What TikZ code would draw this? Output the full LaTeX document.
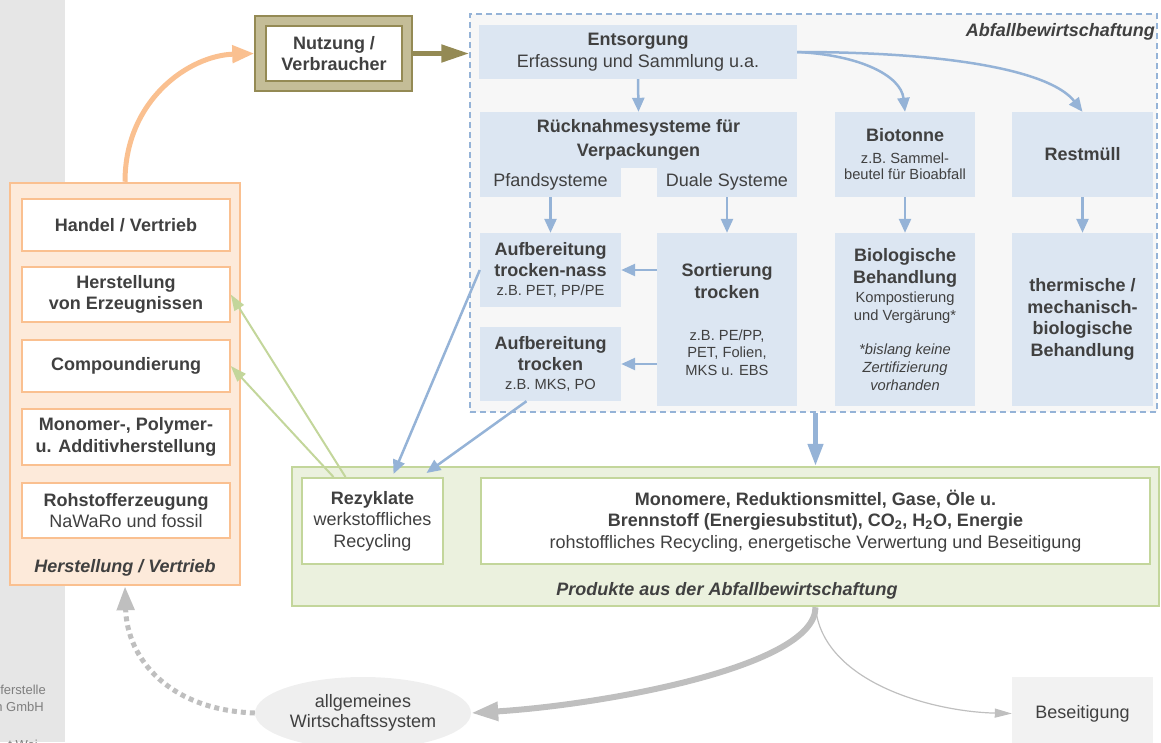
\documentclass[tikz,border=0pt]{standalone}
\usepackage{fontspec}
\setmainfont{Liberation Sans}
\usetikzlibrary{arrows.meta,calc,shapes.geometric}
\definecolor{txtc}{HTML}{404040}
\definecolor{bfill}{HTML}{DCE6F2}
\definecolor{bline}{HTML}{95B3D7}
\definecolor{oline}{HTML}{948A54}
\definecolor{ofill}{HTML}{C4BD97}
\definecolor{orline}{HTML}{FAC090}
\definecolor{orfill}{HTML}{FDEADA}
\definecolor{gline}{HTML}{C3D69B}
\definecolor{gfill}{HTML}{EBF1DE}
\definecolor{grayarr}{HTML}{BFBFBF}
\definecolor{stripc}{HTML}{E6E6E6}
\definecolor{striptxt}{HTML}{7F7F7F}
\definecolor{abffill}{HTML}{F7F7F7}
\definecolor{ellc}{HTML}{EFEFEF}
\definecolor{besc}{HTML}{F2F2F2}
\newcommand\myfb{\fontsize{18}{21.5}\selectfont\bfseries\upshape}
\newcommand\myfr{\fontsize{18}{21.5}\selectfont\mdseries\upshape}
\newcommand\myfsm{\fontsize{14.7}{17.5}\selectfont\mdseries\upshape}
\newcommand\myfbi{\fontsize{18}{21.5}\selectfont\bfseries\itshape}
\begin{document}
\begin{tikzpicture}[x=1pt,y=-1pt,
  txt/.style={text=txtc,align=center,inner sep=0pt,font=\myfr},
  bbox/.style={txt,fill=bfill},
  obox/.style={txt,fill=white,draw=orline,line width=1.5pt,minimum width=208pt},
  gbox/.style={txt,fill=white,draw=gline,line width=2pt},
  barrow/.style={draw=bline,line width=2.5pt,-{Triangle[length=14pt,width=12pt]}},
  garrow/.style={draw=gline,line width=2pt,-{Triangle[length=16pt,width=11pt]}}]
\useasboundingbox (0,0) rectangle (1161,742);
\fill[stripc] (0,0) rectangle (65,742);
\node[txt,anchor=east,font=\fontsize{13}{16}\selectfont,text=striptxt] (s1) at (46,690) {ferstelle};
\node[txt,anchor=east,font=\fontsize{13}{16}\selectfont,text=striptxt] (s2) at (44,707) {n GmbH};
\node[txt,anchor=east,font=\fontsize{13}{16}\selectfont,text=striptxt] (s3) at (38,745) {t Wei};

% Nutzung
\node[fill=ofill,draw=oline,line width=1.5pt,minimum width=157pt,minimum height=75pt,inner sep=0pt] (nutzo) at (333.5,53.5) {};
\node[txt,fill=white,draw=oline,line width=2pt,minimum width=136pt,minimum height=55pt] (nutz) at (334,53.5) {\myfb Nutzung /\\\myfb Verbraucher};

% Herstellung / Vertrieb column
\node[fill=orfill,draw=orline,line width=2.5pt,minimum width=230pt,minimum height=402pt,inner sep=0pt] (herv) at (125,384) {};
\node[obox,minimum height=52pt] (handel) at (126,225) {\myfb Handel / Vertrieb};
\node[obox,minimum height=55pt] (herst) at (126,294.5) {\myfb Herstellung\\\myfb von Erzeugnissen};
\node[obox,minimum height=52pt] (comp) at (126,366) {\myfb Compoundierung};
\node[obox,minimum height=56pt] (mono1) at (126,437) {\myfb Monomer-, Polymer-\\\myfb u. Additivherstellung};
\node[obox,minimum height=55pt] (roh) at (126,510.5) {\myfb Rohstofferzeugung\\\myfr NaWaRo und fossil};
\node[txt,font=\myfbi] (hvlab) at (125,568) {Herstellung / Vertrieb};

% Abfallbewirtschaftung
\node[fill=abffill,draw=bline,line width=1.5pt,dash pattern=on 6pt off 4pt,minimum width=687pt,minimum height=398pt,inner sep=0pt] (abf) at (813.5,213) {};
\node[txt,font=\myfbi,anchor=east] (abflab) at (1155,32) {Abfallbewirtschaftung};
\node[bbox,minimum width=318pt,minimum height=54pt] (ents) at (638,52) {\myfb Entsorgung\\\myfr Erfassung und Sammlung u.a.};
\node[bbox,minimum width=317pt,minimum height=56pt] (rueck) at (638.5,140) {\myfb Rücknahmesysteme für\\[2pt]\myfb Verpackungen};
\node[bbox,minimum width=141pt,minimum height=30pt] (pfand) at (550.5,182) {\myfr Pfandsysteme};
\node[bbox,minimum width=140pt,minimum height=30pt] (duale) at (727,182) {\myfr Duale Systeme};
\node[bbox,minimum width=140pt,minimum height=85pt] (bio) at (905,154.5) {\myfb Biotonne\\[0.5pt]\myfsm z.B. Sammel-\\[-5.5pt]\myfsm beutel für Bioabfall};
\node[bbox,minimum width=141pt,minimum height=85pt] (rest) at (1082.5,154.5) {\myfb Restmüll};
\node[bbox,minimum width=141pt,minimum height=74pt] (auftn) at (550.5,270) {\myfb Aufbereitung\\\myfb trocken-nass\\[-2.5pt]\myfsm z.B. PET, PP/PE};
\node[bbox,minimum width=141pt,minimum height=74pt] (auft) at (550.5,364) {\myfb Aufbereitung\\\myfb trocken\\[-2.5pt]\myfsm z.B. MKS, PO};
\node[bbox,minimum width=140pt,minimum height=173pt] (sort) at (727,319.5) {\myfb Sortierung\\\myfb trocken\\[20.5pt]\myfsm z.B. PE/PP,\\[-4pt]\myfsm PET, Folien,\\[-4pt]\myfsm MKS u. EBS};
\node[bbox,minimum width=140pt,minimum height=173pt] (biobeh) at (905,319.5) {\myfb Biologische\\\myfb Behandlung\\[-2.5pt]\myfsm Kompostierung\\[-3.5pt]\myfsm und Vergärung*\\[12.5pt]\myfsm\itshape *bislang keine\\[-3.5pt]\myfsm\itshape Zertifizierung\\[-3.5pt]\myfsm\itshape vorhanden};
\node[bbox,minimum width=141pt,minimum height=173pt] (therm) at (1082.5,319.5) {\myfb thermische /\\\myfb mechanisch-\\\myfb biologische\\\myfb Behandlung};

% Produkte
\node[fill=gfill,draw=gline,line width=2.5pt,minimum width=867pt,minimum height=139pt,inner sep=0pt] (prod) at (725.5,536.5) {};
\node[gbox,minimum width=141pt,minimum height=86pt] (rez) at (372.5,521) {\myfb Rezyklate\\\myfr werkstoffliches\\\myfr Recycling};
\node[gbox,minimum width=669pt,minimum height=86pt] (mono) at (815.5,521) {\myfb Monomere, Reduktionsmittel, Gase, Öle u.\\\myfb Brennstoff (Energiesubstitut), CO\textsubscript{2}, H\textsubscript{2}O, Energie\\\myfr rohstoffliches Recycling, energetische Verwertung und Beseitigung};
\node[txt,font=\myfbi] (prodlab) at (727,591) {Produkte aus der Abfallbewirtschaftung};

% bottom
\node[txt,ellipse,fill=ellc,minimum width=216pt,minimum height=72pt] (allg) at (363,713) {\myfr allgemeines\\[-1.5pt]\myfr Wirtschaftssystem};
\node[txt,fill=besc,minimum width=141pt,minimum height=73pt] (bes) at (1082.5,713.5) {\myfr Beseitigung};

% connectors
\draw[barrow] (ents.south) -- (rueck.north);
\draw[barrow] (ents.east) .. controls +(63,3) and +(-4,-36) .. (bio.north);
\draw[barrow] (ents.east) .. controls +(153,0) and +(-32,-41) .. (rest.north);
\draw[barrow] (pfand.south) -- (auftn.north);
\draw[barrow] (duale.south) -- (sort.north);
\draw[barrow] (bio.south) -- (biobeh.north);
\draw[barrow] (rest.south) -- (therm.north);
\draw[barrow] (auftn.east -| sort.west) -- (auftn.east);
\draw[barrow] (auft.east -| sort.west) -- (auft.east);
\draw[barrow] (auftn.west) -- ($(rez.north)+(21,-3)$);
\draw[barrow] ($(auft.south)+(-24,0)$) -- ($(rez.north)+(54,-4)$);
\draw[draw=bline,line width=4.5pt,-{Triangle[length=22pt,width=15pt]}] (abf.south -| mono.north) -- (prod.north -| mono.north);
\draw[garrow] ($(rez.north)+(-27,0)$) -- (herst.east);
\draw[garrow] ($(rez.north)+(-39,0)$) -- (comp.east);
\draw[draw=orline,line width=5pt,-{Triangle[length=22pt,width=17pt]}] (herv.north) .. controls +(0,-82) and +(-65,2) .. (nutzo.west);
\draw[draw=oline,line width=5pt,-{Triangle[length=28pt,width=17pt]}] (nutzo.east) -- (nutzo.east -| abf.west);
\draw[draw=grayarr,line width=6pt,-{Triangle[length=27pt,width=18pt]}] (prod.south -| mono.south) .. controls +(0,60) and +(130,-8) .. (allg.east);
\draw[draw=grayarr,line width=1.2pt,-{Triangle[length=17pt,width=9pt]}] (prod.south -| mono.south) .. controls +(7,74) and +(-82,-2) .. (bes.west);
\draw[draw=grayarr,line width=5pt,dash pattern=on 5pt off 4pt,-{Triangle[length=24pt,width=17pt]}] (allg.west) .. controls +(-85,-3) and +(2,73) .. (herv.south);
\end{tikzpicture}
\end{document}
